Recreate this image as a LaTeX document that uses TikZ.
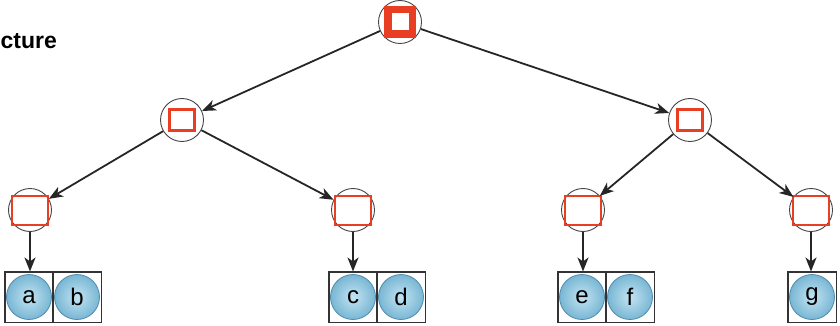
\documentclass[tikz,border=0pt]{standalone}
\usepackage{fontspec}
\setmainfont{Liberation Sans}
\usetikzlibrary{arrows.meta}
\definecolor{ballfill}{RGB}{120,182,212}
\definecolor{ballin}{RGB}{196,228,242}
\definecolor{ballrim}{RGB}{80,140,172}
\definecolor{sqred}{RGB}{232,62,36}
\definecolor{ringgray}{RGB}{70,70,70}
\tikzset{
  x=1pt, y=-1pt,
  treenode/.style={circle, draw=ringgray, line width=0.9pt, fill=white, minimum size=43pt, inner sep=0pt},
  edge/.style={-{Stealth[length=14pt,width=11pt,inset=4pt]}, line width=1.8pt, draw=black!85},
  leafbox/.style={draw=black!80, line width=1pt, minimum width=48pt, minimum height=50pt, inner sep=0pt},
  ball/.style={circle, draw=ballrim, line width=0.8pt, inner color=ballin, outer color=ballfill, minimum size=45pt, inner sep=0pt, font=\fontsize{24}{24}\selectfont},
}
\begin{document}
\begin{tikzpicture}
\useasboundingbox (0,0) rectangle (840,326);
\node[anchor=base east, font=\bfseries\fontsize{23}{23}\selectfont, inner sep=0pt] (title) at (57,49) {cture};

% tree nodes
\node[treenode] (r) at (400,22) {};
\node[treenode] (l) at (182,120) {};
\node[treenode] (rt) at (690,120) {};
\node[treenode] (ll) at (30,210) {};
\node[treenode] (lr) at (353,210) {};
\node[treenode] (rl) at (583,210) {};
\node[treenode] (rr) at (811,210) {};

% square markers inside the tree nodes
\fill[sqred] (384,6) rectangle (416,38);
\fill[white] (391.5,13.5) rectangle (408.5,30.5);
\draw[sqred, line width=3.5pt] (169.5,109.5) rectangle (194.5,130.5);
\draw[sqred, line width=3.5pt] (677.5,109.5) rectangle (702.5,130.5);
\foreach \n in {ll,lr,rl,rr}
  \draw[sqred, line width=1.1pt] ([shift={(-18,-14)}]\n.center) rectangle ([shift={(18,15)}]\n.center);

% leaf boxes
\node[leafbox] (ba) at (29,297) {};
\node[leafbox] (bb) at (77,297) {};
\node[leafbox] (bc) at (353,297) {};
\node[leafbox] (bd) at (401,297) {};
\node[leafbox] (be) at (582,297) {};
\node[leafbox] (bf) at (630,297) {};
\node[leafbox] (bg) at (812,297) {};

% leaf values
\node[ball] (a) at (ba) {a};
\node[ball] (b) at (bb) {b};
\node[ball] (c) at (bc) {c};
\node[ball] (d) at (bd) {d};
\node[ball] (e) at (be) {e};
\node[ball] (f) at (bf) {f};
\node[ball] (g) at (bg) {g};
% box outlines drawn over the balls
\foreach \n in {ba,bb,bc,bd,be,bf,bg}
  \draw[draw=black!80, line width=1pt] (\n.north west) rectangle (\n.south east);

% connectors
\draw[edge] (r) -- (l);
\draw[edge] (r) -- (rt);
\draw[edge] (l) -- (ll);
\draw[edge] (l) -- (lr);
\draw[edge] (rt) -- (rl);
\draw[edge] (rt) -- (rr);
\draw[edge] (ll) -- (ll |- ba.north);
\draw[edge] (lr) -- (lr |- bc.north);
\draw[edge] (rl) -- (rl |- be.north);
\draw[edge] (rr) -- (rr |- bg.north);
\end{tikzpicture}
\end{document}
